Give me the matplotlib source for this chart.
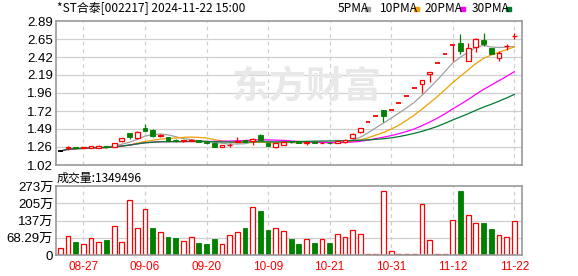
import matplotlib
matplotlib.use("Agg")
import matplotlib.pyplot as plt
from matplotlib.patches import Rectangle
import numpy as np
import pandas as pd

# daily K-line data, 2024-08-22 .. 2024-11-22
prev_close = 1.20
opens = [1.20, 1.245, 1.252, 1.245, 1.24, 1.245, 1.262, 1.252, 1.328, 1.44,
         1.368, 1.505, 1.48, 1.40, 1.378, 1.34, 1.33, 1.335, 1.344, 1.318,
         1.30, 1.252, 1.28, 1.325, 1.34, 1.33, 1.415, 1.305, 1.26, 1.285,
         1.32, 1.315, 1.31, 1.315, 1.305, 1.31, 1.31, 1.315, 1.375, 1.455,
         1.58, 1.66, 1.74, 1.74, 1.83, 1.92, 2.02, 2.07, 2.20, 2.34,
         2.46, 2.58, 2.61, 2.375, 2.55, 2.643, 2.535, 2.41, 2.565, 2.695]
highs = [1.20, 1.265, 1.255, 1.255, 1.265, 1.28, 1.27, 1.31, 1.37, 1.442,
         1.458, 1.55, 1.49, 1.42, 1.38, 1.36, 1.35, 1.36, 1.35, 1.335,
         1.305, 1.28, 1.31, 1.386, 1.35, 1.365, 1.42, 1.308, 1.302, 1.33,
         1.325, 1.32, 1.32, 1.318, 1.32, 1.315, 1.34, 1.355, 1.43, 1.505,
         1.58, 1.66, 1.74, 1.74, 1.83, 1.92, 2.02, 2.12, 2.23, 2.34,
         2.46, 2.58, 2.72, 2.60, 2.665, 2.73, 2.54, 2.504, 2.59, 2.738]
lows = [1.20, 1.21, 1.24, 1.24, 1.238, 1.24, 1.245, 1.248, 1.325, 1.356,
        1.362, 1.46, 1.39, 1.38, 1.33, 1.325, 1.325, 1.33, 1.315, 1.295,
        1.25, 1.248, 1.26, 1.314, 1.32, 1.285, 1.34, 1.27, 1.246, 1.28,
        1.31, 1.305, 1.28, 1.30, 1.30, 1.295, 1.305, 1.31, 1.37, 1.43,
        1.58, 1.66, 1.58, 1.74, 1.83, 1.92, 2.02, 1.96, 2.10, 2.34,
        2.46, 2.37, 2.458, 2.37, 2.49, 2.565, 2.465, 2.374, 2.513, 2.652]
closes = [1.20, 1.25, 1.245, 1.25, 1.262, 1.265, 1.252, 1.305, 1.368, 1.39,
          1.452, 1.463, 1.40, 1.408, 1.335, 1.33, 1.34, 1.345, 1.32, 1.31,
          1.26, 1.278, 1.285, 1.335, 1.325, 1.362, 1.345, 1.273, 1.30, 1.325,
          1.315, 1.31, 1.315, 1.305, 1.312, 1.30, 1.33, 1.35, 1.425, 1.50,
          1.58, 1.66, 1.66, 1.74, 1.83, 1.92, 2.02, 2.12, 2.23, 2.34,
          2.46, 2.58, 2.495, 2.545, 2.66, 2.595, 2.46, 2.47, 2.57, 2.70]
# volume in 10k shares
volumes = [26.5, 74, 51, 42, 66, 50, 59, 114, 50, 216,
           106, 181, 107, 90, 71, 67, 55, 70, 49, 44,
           63, 42, 78, 91, 107, 189, 174, 99, 106, 94,
           63, 44, 62, 47, 62, 47, 82, 70, 98, 83,
           2.5, 2.5, 252, 16, 2.5, 2.5, 2.5, 202, 59, 2.5,
           2.5, 138, 253, 158, 127, 127, 103, 79, 71, 134.9496]

date_pos = [3, 11, 19, 27, 35, 43, 51, 59]
date_labels = ["08-27", "09-06", "09-20", "10-09", "10-21", "10-31", "11-12", "11-22"]
price_ticks = [1.02, 1.26, 1.49, 1.72, 1.96, 2.19, 2.42, 2.65, 2.89]
vol_ticks = [0, 68.29, 136.58, 204.88, 273.17]
vol_labels = ["0", "68.29万", "137万", "205万", "273万"]
ma_windows = [5, 10, 20, 30]
ma_colors = ["#a0a0a0", "#f0a000", "#ff00ff", "#007a33"]

RED = "#ff0000"
GREEN = "#008000"
GRID = "#d0d0d0"
FRAME = "#999999"

o = np.array(opens); h = np.array(highs); l = np.array(lows); c = np.array(closes)
v = np.array(volumes)
x = np.arange(len(c))
pc = np.concatenate([[prev_close], c[:-1]])

W, H = 578, 276
fig = plt.figure(figsize=(W / 100, H / 100), dpi=100)
axp = fig.add_axes([56 / W, 1 - 165 / H, 466 / W, 144 / H])
axv = fig.add_axes([56 / W, 1 - 255 / H, 466 / W, 69 / H])

# watermark
fig.text(307 / W, 1 - 87 / H, "东方财富", fontsize=27, fontweight="bold",
         color="#e8e8e8", ha="center", va="center",
         family=["Noto Sans CJK SC", "DejaVu Sans"], zorder=0)

# candles
bw = 0.62
for i in x:
    if c[i] > o[i]:
        col = RED
    elif c[i] < o[i]:
        col = GREEN
    elif c[i] > pc[i]:
        col = RED
    elif c[i] < pc[i]:
        col = GREEN
    else:
        col = "black"
    if h[i] > l[i]:
        axp.vlines(i, l[i], h[i], color=col, lw=0.9, zorder=3)
    if c[i] == o[i]:
        axp.hlines(c[i], i - bw / 2, i + bw / 2, color=col, lw=1.3, zorder=4)
    elif c[i] > o[i]:
        axp.bar(i, c[i] - o[i], bottom=o[i], width=bw, facecolor="white",
                edgecolor=RED, lw=0.9, zorder=4)
    else:
        axp.bar(i, o[i] - c[i], bottom=c[i], width=bw, facecolor=GREEN,
                edgecolor=GREEN, lw=0.6, zorder=4)

close_s = pd.Series(c)
for win, col in zip(ma_windows, ma_colors):
    axp.plot(x, close_s.rolling(win, min_periods=1).mean(), color=col, lw=0.9, zorder=2)

# volume bars
for i in x:
    if c[i] >= pc[i]:
        axv.bar(i, v[i], width=bw, facecolor="white", edgecolor=RED, lw=0.9, zorder=3)
    else:
        axv.bar(i, v[i], width=bw, facecolor=GREEN, edgecolor=GREEN, lw=0.6, zorder=3)

for ax in (axp, axv):
    ax.set_xlim(-0.56, 60.0)
    for p in date_pos:
        ax.axvline(p, color=GRID, lw=0.9, ls=(0, (3, 3)), zorder=1)
    for s in ax.spines.values():
        s.set_color(FRAME)
        s.set_linewidth(1.2)
        s.set_zorder(5)
    ax.tick_params(length=0, pad=2)

axp.set_ylim(price_ticks[0], price_ticks[-1])
axp.set_yticks(price_ticks)
axp.set_yticklabels(["%.2f" % t for t in price_ticks], family="Liberation Sans", fontsize=9.5)
for t in price_ticks[1:-1]:
    axp.axhline(t, color=GRID, lw=0.9, zorder=1)
axp.set_xticks([])

axv.set_ylim(0, vol_ticks[-1])
axv.set_yticks(vol_ticks)
axv.set_yticklabels(vol_labels, family=["Liberation Sans", "Noto Sans CJK SC"], fontsize=9.5)
for t in vol_ticks[1:-1]:
    axv.axhline(t, color=GRID, lw=0.9, zorder=1)
axv.set_xticks(date_pos)
axv.set_xticklabels(date_labels, color=RED, fontsize=8.5, family="Liberation Sans")
axv.tick_params(axis="x", pad=4)

# header texts
cjk = ["Noto Sans CJK SC", "DejaVu Sans"]
fig.text(57 / W, 1 - 9 / H, "*ST合泰[002217] 2024-11-22 15:00", fontsize=8.6,
         family=cjk, va="center", ha="left")
fig.text(57 / W, 1 - 178 / H, "成交量:1349496", fontsize=8.6, family=cjk,
         va="center", ha="left")

leg = [("5PMA", 338, 365), ("10PMA", 380, 414), ("20PMA", 425, 460), ("30PMA", 472, 506)]
for (name, tx, bx), col in zip(leg, ma_colors):
    fig.text(tx / W, 1 - 9 / H, name, fontsize=8.6, family=cjk, va="center", ha="left")
    fig.patches.append(Rectangle((bx / W, 1 - 10.5 / H), 5 / W, 3 / H,
                                 transform=fig.transFigure, color=col, figure=fig))

fig.savefig("out.png", dpi=100)
